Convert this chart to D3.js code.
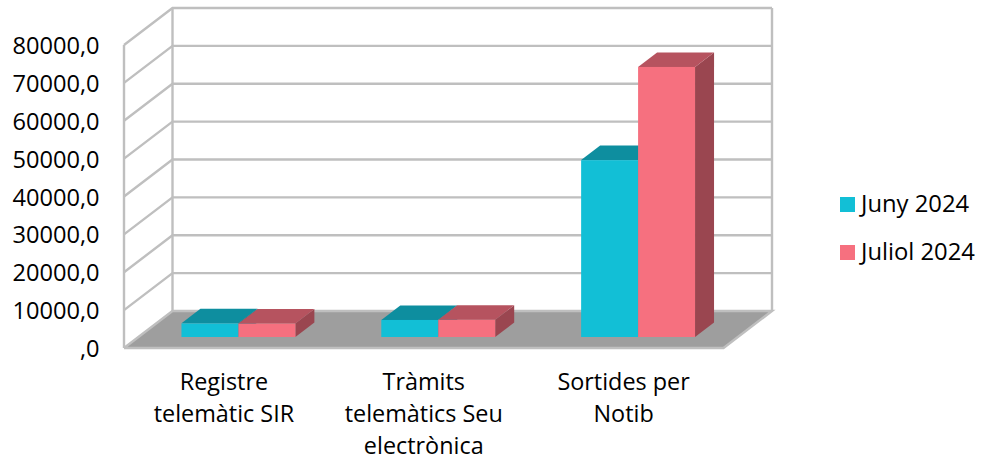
<!DOCTYPE html>
<html><head><meta charset="utf-8">
<script src="https://cdn.jsdelivr.net/npm/d3@7/dist/d3.min.js"></script>
<style>html,body{margin:0;padding:0;background:#fff}svg{display:block}text{font-family:"Open Sans",sans-serif;fill:#000}</style>
</head><body><svg id="c" width="982" height="461"></svg>
<script>
const categories = [["Registre","telemàtic SIR"],["Tràmits","telemàtics Seu","electrònica"],["Sortides per","Notib"]];
const seriesNames = ["Juny 2024","Juliol 2024"];
const juny = [3600,4500,46700];
const juliol = [3550,4550,71300];
const tickValues = [0,10000,20000,30000,40000,50000,60000,70000,80000];
const tickLabels = [",0","10000,0","20000,0","30000,0","40000,0","50000,0","60000,0","70000,0","80000,0"];
const frontColors = ["#12BFD6","#F6707F"];
const topColors = ["#0E8E9F","#B6535F"];
const sideColors = ["#0B7482","#9A4650"];

const svg = d3.select("#c");
const L=124,R=723.5,B=348,T=45, DX=48.5, DY=-37, BDX=19, BDY=-14.5, INX=14.5, INY=-11;
const y = d3.scaleLinear().domain([0,80000]).range([B,T]);
const x = d3.scaleBand().domain(d3.range(3)).range([L+INX,R+INX]);
const barW = x.bandwidth()*0.285;
const poly = pts => pts.map(p=>p.join(",")).join(" ");
const grid="#BFBFBF";

// floor
svg.append("polygon").attr("points",poly([[L,B],[R,B],[R+DX,B+DY],[L+DX,B+DY]])).attr("fill","#9E9E9E");
// gridlines
tickValues.forEach(v=>{
  const yy=y(v);
  svg.append("polyline").attr("fill","none").attr("stroke",grid).attr("stroke-width",2.4)
    .attr("points",v===0?poly([[L,yy],[L+DX,yy+DY],[R+DX,yy+DY],[R,yy],[L,yy]]):poly([[L,yy],[L+DX,yy+DY],[R+DX,yy+DY]]));
});
// walls
svg.append("line").attr("x1",L).attr("x2",L).attr("y1",y(0)).attr("y2",y(80000)).attr("stroke",grid).attr("stroke-width",2.4);
svg.append("line").attr("x1",L+DX).attr("x2",L+DX).attr("y1",y(0)+DY).attr("y2",y(80000)+DY).attr("stroke",grid).attr("stroke-width",2.4);
svg.append("line").attr("x1",R+DX).attr("x2",R+DX).attr("y1",y(0)+DY).attr("y2",y(80000)+DY).attr("stroke",grid).attr("stroke-width",2.4);

// bars
[juny,juliol].forEach((vals,s)=>{
  vals.forEach((v,i)=>{
    const c=x(i)+x.bandwidth()/2;
    const x0=c+(s-1)*barW, x1=x0+barW, yb=y(0)+INY, yt=y(v)+INY;
    const g=svg.append("g");
    g.append("polygon").attr("points",poly([[x1,yt],[x1+BDX,yt+BDY],[x1+BDX,yb+BDY],[x1,yb]])).attr("fill",sideColors[s]);
    g.append("polygon").attr("points",poly([[x0,yt],[x0+BDX,yt+BDY],[x1+BDX,yt+BDY],[x1,yt]])).attr("fill",topColors[s]);
    g.append("rect").attr("x",x0).attr("y",yt).attr("width",barW).attr("height",yb-yt).attr("fill",frontColors[s]);
  });
});

// y axis
const ax=svg.append("g").attr("transform",`translate(${L},1)`)
  .call(d3.axisLeft(y).tickValues(tickValues).tickSize(0).tickPadding(24.5).tickFormat((d,i)=>tickLabels[i]));
ax.select(".domain").remove();
ax.selectAll("text").style("font-size","23.6px").style("font-family",'"Open Sans",sans-serif').style("fill","#000");

// category labels
categories.forEach((lines,i)=>{
  const cx=x(i)+x.bandwidth()/2-14.5;
  const t=svg.append("text").attr("text-anchor","middle").attr("font-size","23.4px");
  lines.forEach((ln,k)=>t.append("tspan").attr("x",cx).attr("y",390+k*32).text(ln));
});

// legend
seriesNames.forEach((n,i)=>{
  const yy=197+i*48;
  svg.append("rect").attr("x",840).attr("y",yy).attr("width",15).attr("height",15).attr("fill",frontColors[i]);
  svg.append("text").attr("x",861).attr("y",yy+15).attr("font-size","23.8px").text(n);
});
</script></body></html>
